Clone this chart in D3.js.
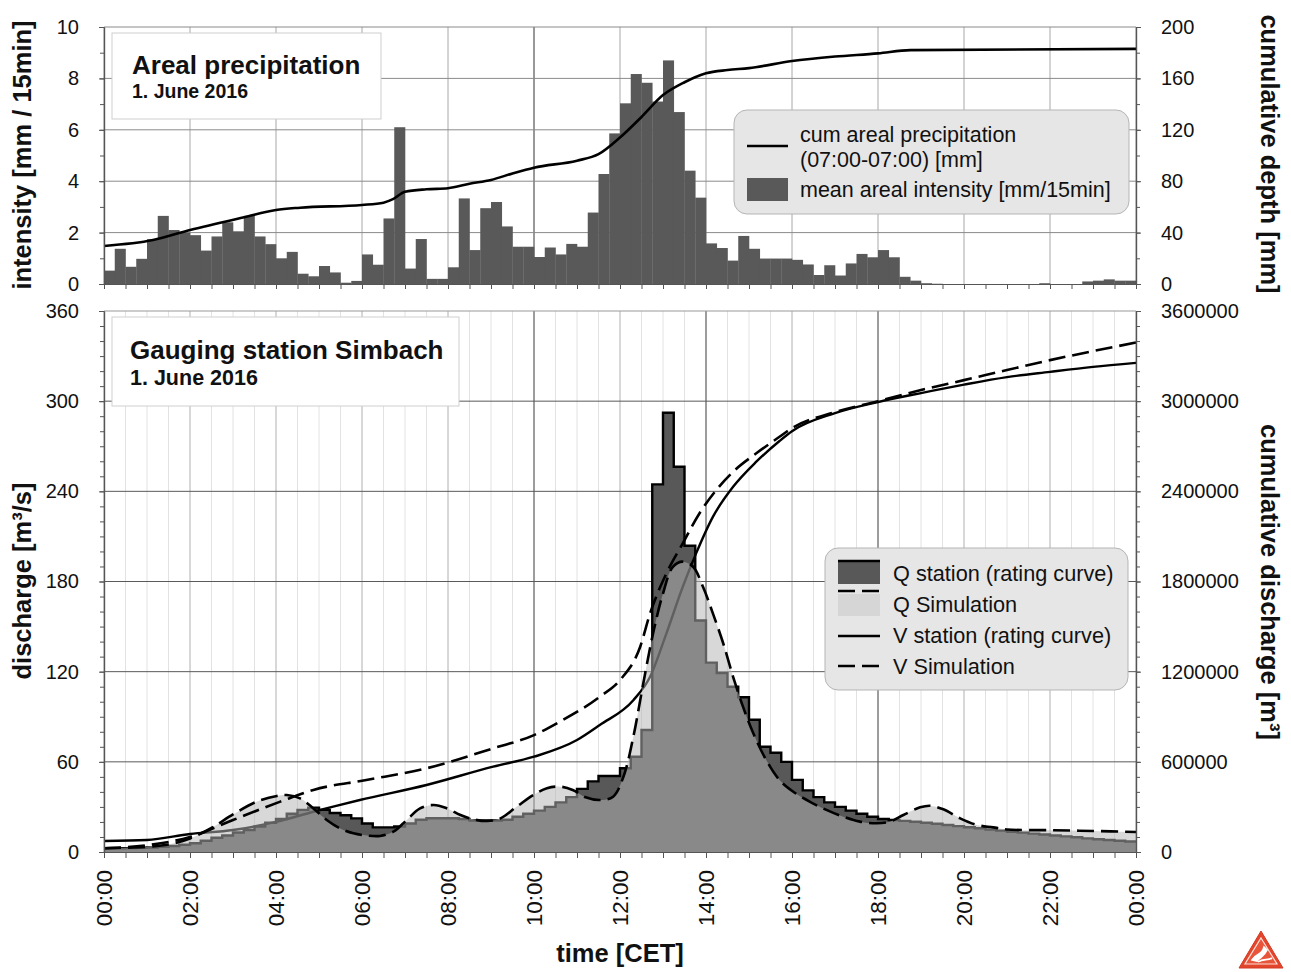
<!DOCTYPE html>
<html>
<head>
<meta charset="utf-8">
<script src="https://cdn.jsdelivr.net/npm/d3@7/dist/d3.min.js"></script>
<style>
body{margin:0;background:#fff;}
svg text{font-family:"Liberation Sans",Arial,sans-serif;fill:#111;}
</style>
</head>
<body>
<svg id="chart" width="1291" height="972"></svg>
<script>
// ---------- data ----------
// mean areal intensity per 15 min, 00:00 .. 23:45  [mm/15min]
var intensity = [
  0.52, 1.37, 0.67, 0.98,  1.74, 2.65, 2.10, 2.00,  1.90, 1.30, 1.85, 2.40,
  2.05, 2.65, 1.85, 1.55,  1.00, 1.25, 0.40, 0.30,  0.70, 0.45, 0.05, 0.12,
  1.15, 0.75, 2.55, 6.10,  0.60, 1.75, 0.20, 0.20,  0.65, 3.33, 1.32, 2.95,
  3.19, 2.24, 1.45, 1.45,  1.05, 1.42, 1.15, 1.56,  1.45, 2.78, 4.28, 5.86,
  7.03, 8.17, 7.83, 7.10,  8.70, 6.69, 4.41, 3.36,  1.58, 1.40, 0.91, 1.87,
  1.37, 0.99, 0.99, 0.99,  0.94, 0.76, 0.35, 0.73,  0.33, 0.80, 1.17, 1.04,
  1.32, 1.04, 0.28, 0.13,  0.03, 0.01, 0, 0,        0, 0, 0, 0,
  0, 0, 0, 0.03,           0, 0, 0, 0.10,           0.13, 0.18, 0.13, 0.13
]
// cumulative areal precipitation (07:00-07:00) [mm]
var cumHours = [0, 1.14, 2, 3.26, 4, 4.56, 6, 6.5, 6.72, 7, 7.5, 8, 8.5, 9, 9.5, 10, 11, 11.5, 12, 12.5, 13, 13.5, 14, 14.5, 15, 16, 17, 18, 18.75, 24]
var cumDepth = [29.6, 34.2, 42, 52, 57.6, 59.4, 61.5, 63.3, 66, 71.8, 73.7, 74.5, 78, 81, 86, 90.5, 96, 101, 114, 130, 147, 157, 164, 166.5, 168, 173.5, 177, 179.5, 182, 183]

// discharge at the station, 15 min steps [m3/s]
var qStation = [
  2.5, 2.5, 2.6, 2.8,  3.0, 3.4, 4.0, 4.8,  5.8, 7.5, 9.5, 11,
  13, 14.6, 17, 19.5,  22, 25.5, 28, 29.5,  28, 26, 24.5, 22.4,
  19, 16.4, 16.4, 17,  19, 21.5, 22.5, 22.5,  22.5, 22, 21, 21,
  21, 21.5, 23.5, 25.5,  27.5, 30, 33, 36.5,  42, 47, 50.6, 50.6,
  55.7, 63.4, 81.2, 244.6,  292.3, 256.4, 203.8, 154,  126, 119, 110, 103,
  88, 70, 66, 60,  48, 41, 36.5, 33,  30, 27.5, 25.5, 23.5,
  22, 21.3, 20.7, 20.1,  19.5, 18.8, 18, 17.2,  16.5, 15.8, 15, 14.2,
  13.5, 12.9, 12.2, 11.6,  11, 10.4, 9.8, 9.1,  8.5, 8, 7.5, 7
]
// simulated discharge [m3/s]
var qSimHours = [0, 1, 1.5, 2, 2.5, 3, 3.55, 4.02, 4.25, 4.56, 4.87, 5.18, 5.49, 5.8, 6.11, 6.42, 6.73, 7.04, 7.35, 7.67, 7.98, 8.29, 8.6, 8.91, 9.22, 9.6, 9.99, 10.3, 10.6, 10.9, 11.2, 11.53, 11.84, 12.08, 12.31, 12.54, 12.77, 13.0, 13.23, 13.46, 13.7, 13.93, 14.16, 14.4, 14.63, 14.86, 15.1, 15.4, 15.71, 16.03, 16.41, 16.8, 17.19, 17.58, 17.97, 18.28, 18.59, 18.98, 19.21, 19.52, 19.91, 20.3, 20.68, 21, 22, 23, 24]
var qSim = [2.5, 3.5, 5, 9, 16, 25, 33.5, 37.3, 37.9, 35.7, 29, 21.3, 15.7, 12.4, 11, 10.7, 13.5, 21.3, 29, 31.3, 29, 24.6, 21.7, 20.6, 22.4, 30.2, 38, 42.4, 43.5, 41.3, 36.4, 34.6, 36.8, 50.1, 76.7, 112, 145.5, 172, 189.8, 193.2, 189.8, 176.5, 158.8, 138.9, 116.6, 96.7, 79, 61.2, 47.9, 40.1, 33.5, 28, 23.5, 20.2, 19.1, 20.2, 24.6, 29.7, 30.8, 28.4, 22.4, 18, 16.4, 15, 14.5, 14, 13.3]

// cumulative discharge [m3]
var vStationHours = [0, 1, 2, 3, 4.02, 4.87, 5.33, 5.95, 7.5, 9.05, 10, 11, 11.53, 12.31, 12.7, 13.08, 13.46, 13.77, 14.16, 14.63, 15.17, 15.71, 16, 17, 18, 19, 20, 21, 22, 23, 24]
var vStation = [73000, 80000, 120000, 146000, 202000, 268000, 302000, 346000, 446000, 568000, 634000, 745000, 845000, 1010000, 1166000, 1455000, 1765000, 1987000, 2230000, 2430000, 2597000, 2735000, 2800000, 2920000, 2994000, 3054000, 3110000, 3160000, 3195000, 3228000, 3255000]
var vSimHours = [0, 1, 2, 3, 4.1, 4.87, 6.1, 7.5, 9.05, 10, 10.6, 11.53, 12, 12.47, 12.7, 13.08, 13.46, 13.85, 14.24, 14.63, 15.17, 15.71, 16, 17, 18, 19, 20, 21, 22, 23, 24]
var vSim = [25000, 45000, 100000, 213000, 335000, 413000, 479000, 557000, 690000, 778000, 867000, 1033000, 1144000, 1366000, 1588000, 1854000, 2054000, 2254000, 2409000, 2530000, 2653000, 2763000, 2820000, 2927000, 3000000, 3074000, 3140000, 3207000, 3273000, 3333000, 3390000]

var timeLabels = ["00:00","02:00","04:00","06:00","08:00","10:00","12:00","14:00","16:00","18:00","20:00","22:00","00:00"]
var intensityTicks = [0, 2, 4, 6, 8, 10]
var depthTicks = [0, 40, 80, 120, 160, 200]
var dischargeTicks = [0, 60, 120, 180, 240, 300, 360]
var volumeTicks = [0, 600000, 1200000, 1800000, 2400000, 3000000, 3600000]

// ---------- setup ----------
var svg = d3.select("#chart")
var pa = {top: 27, bottom: 284}     // precipitation panel
var pb = {top: 311, bottom: 852}    // discharge panel
var left = 104, right = 1136

var x = d3.scaleLinear().domain([0, 24]).range([left, right])
var yI = d3.scaleLinear().domain([0, 10]).range([pa.bottom, pa.top])
var yC = d3.scaleLinear().domain([0, 200]).range([pa.bottom, pa.top])
var yQ = d3.scaleLinear().domain([0, 360]).range([pb.bottom, pb.top])
var yV = d3.scaleLinear().domain([0, 3600000]).range([pb.bottom, pb.top])

var hours2 = d3.range(0, 25, 2)
var halfHours = d3.range(0, 24.01, 0.5)

// ---------- grid ----------
var grid = svg.append("g")
// precipitation panel
grid.selectAll(".ga").data(hours2).enter().append("line")
    .attr("x1", d => x(d)).attr("x2", d => x(d))
    .attr("y1", pa.top).attr("y2", pa.bottom)
    .attr("stroke", d => d == 10 ? "#333" : "#a8a8a8").attr("stroke-width", 1)
grid.selectAll(".gb").data([2, 4, 6, 8, 10]).enter().append("line")
    .attr("x1", left).attr("x2", right)
    .attr("y1", d => yI(d)).attr("y2", d => yI(d))
    .attr("stroke", "#8a8a8a").attr("stroke-width", 1)
// discharge panel
grid.selectAll(".gc").data(halfHours).enter().append("line")
    .attr("x1", d => x(d)).attr("x2", d => x(d))
    .attr("y1", pb.top).attr("y2", pb.bottom)
    .attr("stroke", function(d) {
        if (d == 10 || d == 14 || d == 18) return "#3a3a3a"
        if (d % 2 == 0) return "#b0b0b0"
        return "#e2e2e2"
    })
    .attr("stroke-width", 1)
grid.selectAll(".gd").data(dischargeTicks.slice(1)).enter().append("line")
    .attr("x1", left).attr("x2", right)
    .attr("y1", d => yQ(d)).attr("y2", d => yQ(d))
    .attr("stroke", d => d == 360 ? "#999" : "#5a5a5a").attr("stroke-width", 1)

// ---------- precipitation bars + cumulative line ----------
svg.append("g").selectAll("rect").data(intensity).enter().append("rect")
    .attr("x", (d, i) => x(i * 0.25))
    .attr("width", (d, i) => x((i + 1) * 0.25) - x(i * 0.25) + 0.3)
    .attr("y", d => yI(d))
    .attr("height", d => yI(0) - yI(d))
    .attr("fill", "#595959")

var cumLine = d3.line()
    .x((d, i) => x(cumHours[i]))
    .y(d => yC(d))
    .curve(d3.curveMonotoneX)
svg.append("path").datum(cumDepth)
    .attr("d", cumLine)
    .attr("fill", "none").attr("stroke", "#000").attr("stroke-width", 2.6)

// ---------- discharge panel ----------
var stationPts = qStation.map((d, i) => [i * 0.25, d])
stationPts.push([24, qStation[qStation.length - 1]])

var stepArea = d3.area()
    .x(d => x(d[0])).y0(yQ(0)).y1(d => yQ(d[1]))
    .curve(d3.curveStepAfter)
var stepLine = d3.line()
    .x(d => x(d[0])).y(d => yQ(d[1]))
    .curve(d3.curveStepAfter)

svg.append("path").datum(stationPts)
    .attr("d", stepArea).attr("fill", "#585858")
svg.append("path").datum(stationPts)
    .attr("d", stepLine).attr("fill", "none")
    .attr("stroke", "#000").attr("stroke-width", 2.4)

var vLine = function(hours, scale) {
    return d3.line()
        .x((d, i) => x(hours[i]))
        .y(d => scale(d))
        .curve(d3.curveMonotoneX)
}
svg.append("path").datum(vStation)
    .attr("d", vLine(vStationHours, yV))
    .attr("fill", "none").attr("stroke", "#000").attr("stroke-width", 2.4)

// simulation area lies over the station (translucent light gray)
var simArea = d3.area()
    .x((d, i) => x(qSimHours[i])).y0(yQ(0)).y1(d => yQ(d))
    .curve(d3.curveCatmullRom.alpha(0.5))
var simLine = d3.line()
    .x((d, i) => x(qSimHours[i])).y(d => yQ(d))
    .curve(d3.curveCatmullRom.alpha(0.5))
svg.append("path").datum(qSim)
    .attr("d", simArea)
    .attr("fill", "rgb(182,182,182)").attr("fill-opacity", 0.53)
svg.append("path").datum(qSim)
    .attr("d", simLine).attr("fill", "none")
    .attr("stroke", "#000").attr("stroke-width", 2.6)
    .attr("stroke-dasharray", "17,7")

svg.append("path").datum(vSim)
    .attr("d", vLine(vSimHours, yV))
    .attr("fill", "none").attr("stroke", "#000").attr("stroke-width", 2.6)
    .attr("stroke-dasharray", "17,7")

// ---------- axes ----------
function styleAxis(g) {
    g.select(".domain").attr("stroke", "#555").attr("stroke-width", 1.2)
    g.selectAll(".tick line").attr("stroke", "#555")
    g.selectAll("text").style("font-size", "20px").attr("fill", "#111")
}
// precipitation panel
svg.append("g").attr("transform", "translate(" + left + ",0)")
    .call(d3.axisLeft(yI).tickValues(d3.range(0, 11, 1)).tickFormat("").tickSize(4).tickSizeOuter(0)).call(styleAxis)
svg.append("g").attr("transform", "translate(" + left + ",0)")
    .call(d3.axisLeft(yI).tickValues(intensityTicks).tickSize(5).tickPadding(20).tickSizeOuter(0)).call(styleAxis)
svg.append("g").attr("transform", "translate(" + right + ",0)")
    .call(d3.axisRight(yC).tickValues(d3.range(0, 201, 20)).tickFormat("").tickSize(4).tickSizeOuter(0)).call(styleAxis)
svg.append("g").attr("transform", "translate(" + right + ",0)")
    .call(d3.axisRight(yC).tickValues(depthTicks).tickSize(5).tickPadding(20).tickSizeOuter(0)).call(styleAxis)
svg.append("g").attr("transform", "translate(0," + pa.bottom + ")")
    .call(d3.axisBottom(x).tickValues(halfHours).tickFormat("").tickSize(5).tickSizeOuter(0)).call(styleAxis)

// discharge panel
svg.append("g").attr("transform", "translate(" + left + ",0)")
    .call(d3.axisLeft(yQ).tickValues(d3.range(0, 361, 10)).tickFormat("").tickSize(4).tickSizeOuter(0)).call(styleAxis)
svg.append("g").attr("transform", "translate(" + left + ",0)")
    .call(d3.axisLeft(yQ).tickValues(dischargeTicks).tickSize(5).tickPadding(20).tickSizeOuter(0)).call(styleAxis)
svg.append("g").attr("transform", "translate(" + right + ",0)")
    .call(d3.axisRight(yV).tickValues(d3.range(0, 3600001, 100000)).tickFormat("").tickSize(4).tickSizeOuter(0)).call(styleAxis)
svg.append("g").attr("transform", "translate(" + right + ",0)")
    .call(d3.axisRight(yV).tickValues(volumeTicks).tickFormat(d3.format("d")).tickSize(5).tickPadding(20).tickSizeOuter(0)).call(styleAxis)
svg.append("g").attr("transform", "translate(0," + pb.bottom + ")")
    .call(d3.axisBottom(x).tickValues(halfHours).tickFormat("").tickSize(6).tickSizeOuter(0)).call(styleAxis)

// rotated time labels
svg.append("g").selectAll("text").data(timeLabels).enter().append("text")
    .attr("transform", (d, i) => "translate(" + x(i * 2) + ",870) rotate(-90)")
    .attr("text-anchor", "end").attr("dy", "0.36em")
    .style("font-size", "22.5px")
    .text(d => d)

// axis titles
function title(txt, tx, ty, rot) {
    svg.append("text")
        .attr("transform", "translate(" + tx + "," + ty + ") rotate(" + rot + ")")
        .attr("text-anchor", "middle")
        .style("font-size", "25.5px").style("font-weight", "bold")
        .text(txt)
}
title("intensity [mm / 15min]", 31, 155, -90)
title("discharge [m³/s]", 31, 581, -90)
title("cumulative depth [mm]", 1261, 154, 90)
title("cumulative discharge [m³]", 1261, 582, 90)
title("time [CET]", 620, 962, 0)

// ---------- title boxes ----------
svg.append("rect").attr("x", 112).attr("y", 33).attr("width", 269).attr("height", 86)
    .attr("fill", "#fff").attr("stroke", "#cfcfcf")
svg.append("text").attr("x", 132).attr("y", 74)
    .style("font-size", "26px").style("font-weight", "bold").text("Areal precipitation")
svg.append("text").attr("x", 132).attr("y", 98)
    .style("font-size", "19.5px").style("font-weight", "bold").text("1. June 2016")

svg.append("rect").attr("x", 112).attr("y", 317).attr("width", 347).attr("height", 89)
    .attr("fill", "#fff").attr("stroke", "#cfcfcf")
svg.append("text").attr("x", 130).attr("y", 359)
    .style("font-size", "26px").style("font-weight", "bold").text("Gauging station Simbach")
svg.append("text").attr("x", 130).attr("y", 385)
    .style("font-size", "21.5px").style("font-weight", "bold").text("1. June 2016")

// ---------- legends ----------
var lgA = svg.append("g")
lgA.append("rect").attr("x", 734).attr("y", 110).attr("width", 395).attr("height", 104)
    .attr("rx", 13).attr("fill", "#e6e6e6").attr("stroke", "#b5b5b5")
lgA.append("line").attr("x1", 747).attr("x2", 788).attr("y1", 146).attr("y2", 146)
    .attr("stroke", "#000").attr("stroke-width", 2.6)
lgA.append("text").attr("x", 800).attr("y", 142).style("font-size", "21.5px").text("cum areal precipitation")
lgA.append("text").attr("x", 800).attr("y", 167).style("font-size", "21.5px").text("(07:00-07:00) [mm]")
lgA.append("rect").attr("x", 747).attr("y", 178).attr("width", 41).attr("height", 23).attr("fill", "#595959")
lgA.append("text").attr("x", 800).attr("y", 197).style("font-size", "21.5px").text("mean areal intensity [mm/15min]")

var lgB = svg.append("g")
lgB.append("rect").attr("x", 825).attr("y", 548).attr("width", 303).attr("height", 142)
    .attr("rx", 13).attr("fill", "#e6e6e6").attr("stroke", "#b5b5b5")
lgB.append("rect").attr("x", 838).attr("y", 561).attr("width", 42).attr("height", 23).attr("fill", "#585858")
lgB.append("line").attr("x1", 838).attr("x2", 880).attr("y1", 561).attr("y2", 561)
    .attr("stroke", "#000").attr("stroke-width", 2.6)
lgB.append("text").attr("x", 893).attr("y", 581).style("font-size", "21.7px").text("Q station (rating curve)")
lgB.append("rect").attr("x", 838).attr("y", 594).attr("width", 42).attr("height", 22).attr("fill", "#d6d6d6")
lgB.append("line").attr("x1", 838).attr("x2", 880).attr("y1", 591).attr("y2", 591)
    .attr("stroke", "#000").attr("stroke-width", 2.6).attr("stroke-dasharray", "17,7")
lgB.append("text").attr("x", 893).attr("y", 612).style("font-size", "21.7px").text("Q Simulation")
lgB.append("line").attr("x1", 838).attr("x2", 880).attr("y1", 636).attr("y2", 636)
    .attr("stroke", "#000").attr("stroke-width", 2.6)
lgB.append("text").attr("x", 893).attr("y", 643).style("font-size", "21.7px").text("V station (rating curve)")
lgB.append("line").attr("x1", 838).attr("x2", 880).attr("y1", 666).attr("y2", 666)
    .attr("stroke", "#000").attr("stroke-width", 2.6).attr("stroke-dasharray", "17,7")
lgB.append("text").attr("x", 893).attr("y", 674).style("font-size", "21.7px").text("V Simulation")

// ---------- small logo ----------
var logo = svg.append("g").attr("transform", "translate(1261,951)")
logo.append("path").attr("d", "M0,-20 L22,17 L-22,17 Z").attr("fill", "#e2452c").attr("stroke", "#d23a22").attr("stroke-linejoin", "round")
logo.append("path").attr("d", "M0,-13 L16,13 L-16,13 Z").attr("fill", "#e8553a").attr("stroke", "#fbe0d8").attr("stroke-width", 1.2)
logo.append("path").attr("d", "M-9,9 C-4,1 1,5 3,-4 L6,-1 C3,6 -1,6 -4,10 Z M-3,11 C2,7 7,10 11,7").attr("fill", "#fff").attr("stroke", "#fff").attr("stroke-width", 1.6)
</script>
</body>
</html>
